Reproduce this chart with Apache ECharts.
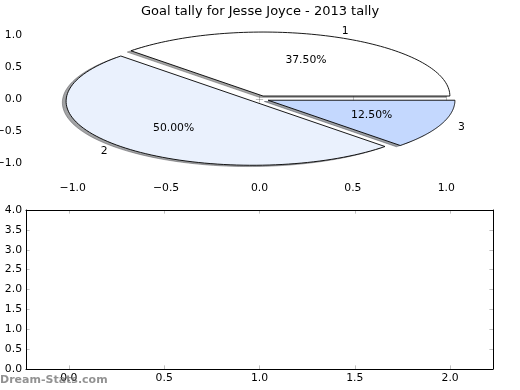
<!DOCTYPE html>
<html>
<head>
<meta charset="utf-8">
<script src="https://cdn.jsdelivr.net/npm/echarts@6/dist/echarts.min.js"></script>
<style>html,body{margin:0;padding:0;background:#fff}#c{width:520px;height:390px}</style>
</head>
<body>
<div id="c"></div>
<script>
var title = 'Goal tally for Jesse Joyce - 2013 tally';
var sliceLabels = ['1', '2', '3'];
var sliceValues = [3, 4, 1];
var sliceColors = ['#ffffff', '#eaf1fd', '#c4d8fe'];
var explode = [0.05, 0.05, 0.05];
var pieXTicks = [-1.0, -0.5, 0.0, 0.5, 1.0];
var pieYTicks = [-1.0, -0.5, 0.0, 0.5, 1.0];
var lowXTicks = [0.0, 0.5, 1.0, 1.5, 2.0];
var lowYTicks = [0.0, 0.5, 1.0, 1.5, 2.0, 2.5, 3.0, 3.5, 4.0];
var watermark = 'Dream-Stats.com';

var FONT = 'DejaVu Sans';
var total = sliceValues.reduce(function (a, b) { return a + b; }, 0);
var starts = [], acc = 0;
sliceValues.forEach(function (v) { starts.push(acc); acc += v; });

function fmt(v) { return v.toFixed(1).replace('-', '\u2212'); }
function hexToRgb(h) { return [parseInt(h.substr(1,2),16), parseInt(h.substr(3,2),16), parseInt(h.substr(5,2),16)]; }

function wedgePoints(i, api, ox, oy) {
  var a0 = starts[i] / total * 2 * Math.PI;
  var a1 = (starts[i] + sliceValues[i]) / total * 2 * Math.PI;
  var am = (a0 + a1) / 2;
  var cx = explode[i] * Math.cos(am) + ox, cy = explode[i] * Math.sin(am) + oy;
  var pts = [api.coord([cx, cy])];
  var n = 90;
  for (var k = 0; k <= n; k++) {
    var t = a0 + (a1 - a0) * k / n;
    pts.push(api.coord([cx + Math.cos(t), cy + Math.sin(t)]));
  }
  return pts;
}

var pieData = sliceValues.map(function (v, i) { return [i, v]; });

var tickStyle = { show: true, inside: true, length: 3.6, lineStyle: { color: '#000', width: 0.5, opacity: 0.5 } };
function axisCommon(extra) {
  var o = {
    type: 'value', splitLine: { show: false },
    axisLabel: { show: false }, axisTick: tickStyle
  };
  for (var k in extra) o[k] = extra[k];
  return o;
}
var lblStyle = { color: '#000', fontFamily: FONT, fontSize: 10.8 };

var option = {
  animation: false,
  title: { text: title, left: 'center', top: 0, textStyle: { fontFamily: FONT, fontSize: 13, fontWeight: 'normal', color: '#000' } },
  grid: [
    { left: 26, top: 19, width: 467, height: 160, containLabel: false, outerBoundsMode: 'none' },
    { left: 26, top: 210, width: 467, height: 159, containLabel: false, outerBoundsMode: 'none' }
  ],
  xAxis: [
    axisCommon({ gridIndex: 0, position: 'bottom', min: -1.25, max: 1.25, axisLine: { show: false },
      axisTick: Object.assign({}, tickStyle, { customValues: pieXTicks }),
      axisLabel: Object.assign({ show: true, margin: 4, customValues: pieXTicks, formatter: fmt }, lblStyle) }),
    axisCommon({ gridIndex: 0, position: 'top', min: -1.25, max: 1.25, axisLine: { show: false },
      axisTick: Object.assign({}, tickStyle, { customValues: pieXTicks }) }),
    axisCommon({ gridIndex: 1, position: 'bottom', min: -0.225, max: 2.225,
      axisLine: { show: true, onZero: false, lineStyle: { color: '#000', width: 1 } },
      axisTick: Object.assign({}, tickStyle, { customValues: lowXTicks }),
      axisLabel: Object.assign({ show: true, margin: 4, customValues: lowXTicks, formatter: fmt }, lblStyle) }),
    axisCommon({ gridIndex: 1, position: 'top', min: -0.225, max: 2.225,
      axisLine: { show: true, onZero: false, lineStyle: { color: '#000', width: 1 } },
      axisTick: Object.assign({}, tickStyle, { customValues: lowXTicks }) })
  ],
  yAxis: [
    axisCommon({ gridIndex: 0, position: 'left', min: -1.25, max: 1.25, axisLine: { show: false },
      axisTick: Object.assign({}, tickStyle, { customValues: pieYTicks }),
      axisLabel: Object.assign({ show: true, margin: 4, customValues: pieYTicks, formatter: fmt }, lblStyle) }),
    axisCommon({ gridIndex: 0, position: 'right', min: -1.25, max: 1.25, axisLine: { show: false },
      axisTick: Object.assign({}, tickStyle, { customValues: pieYTicks }) }),
    axisCommon({ gridIndex: 1, position: 'left', min: 0, max: 4,
      axisLine: { show: true, onZero: false, lineStyle: { color: '#000', width: 1 } },
      axisTick: Object.assign({}, tickStyle, { customValues: lowYTicks }),
      axisLabel: Object.assign({ show: true, margin: 4, customValues: lowYTicks, formatter: fmt }, lblStyle) }),
    axisCommon({ gridIndex: 1, position: 'right', min: 0, max: 4,
      axisLine: { show: true, onZero: false, lineStyle: { color: '#000', width: 1 } },
      axisTick: Object.assign({}, tickStyle, { customValues: lowYTicks }) })
  ],
  graphic: [{
    type: 'text', left: 0, top: 375, z: 100,
    style: { text: watermark, fill: 'rgba(110,110,110,0.75)', font: 'bold 11px "DejaVu Sans"' }
  }],
  series: [
    {
      type: 'custom', xAxisIndex: 0, yAxisIndex: 0, z: 1, clip: false,
      data: pieData,
      renderItem: function (params, api) {
        var i = params.dataIndex;
        var rgb = hexToRgb(sliceColors[i]);
        var c = 'rgba(' + Math.round(rgb[0]*0.3) + ',' + Math.round(rgb[1]*0.3) + ',' + Math.round(rgb[2]*0.3) + ',0.5)';
        return { type: 'polygon', shape: { points: wedgePoints(i, api, -0.02, -0.02) },
          style: { fill: c, stroke: c, lineWidth: 0.9 } };
      }
    },
    {
      type: 'custom', xAxisIndex: 0, yAxisIndex: 0, z: 2, clip: false,
      data: pieData,
      renderItem: function (params, api) {
        var i = params.dataIndex;
        var a0 = starts[i] / total * 2 * Math.PI;
        var a1 = (starts[i] + sliceValues[i]) / total * 2 * Math.PI;
        var am = (a0 + a1) / 2;
        var cx = explode[i] * Math.cos(am), cy = explode[i] * Math.sin(am);
        var lp = api.coord([cx + 1.1 * Math.cos(am), cy + 1.1 * Math.sin(am)]);
        var pp = api.coord([cx + 0.6 * Math.cos(am), cy + 0.6 * Math.sin(am)]);
        var pct = (sliceValues[i] / total * 100).toFixed(2) + '%';
        return { type: 'group', children: [
          { type: 'polygon', shape: { points: wedgePoints(i, api, 0, 0) },
            style: { fill: sliceColors[i], stroke: '#000', lineWidth: 0.9 } },
          { type: 'text', x: lp[0], y: lp[1],
            style: { text: sliceLabels[i], fill: '#000', font: '10.8px "DejaVu Sans"',
              align: Math.cos(am) > 0 ? 'left' : 'right', verticalAlign: 'middle' } },
          { type: 'text', x: pp[0], y: pp[1],
            style: { text: pct, fill: '#000', font: '10.8px "DejaVu Sans"', align: 'center', verticalAlign: 'middle' } }
        ] };
      }
    }
  ]
};
var chart = echarts.init(document.getElementById('c'), null, { renderer: 'canvas' });
chart.setOption(option);
</script>
</body>
</html>
